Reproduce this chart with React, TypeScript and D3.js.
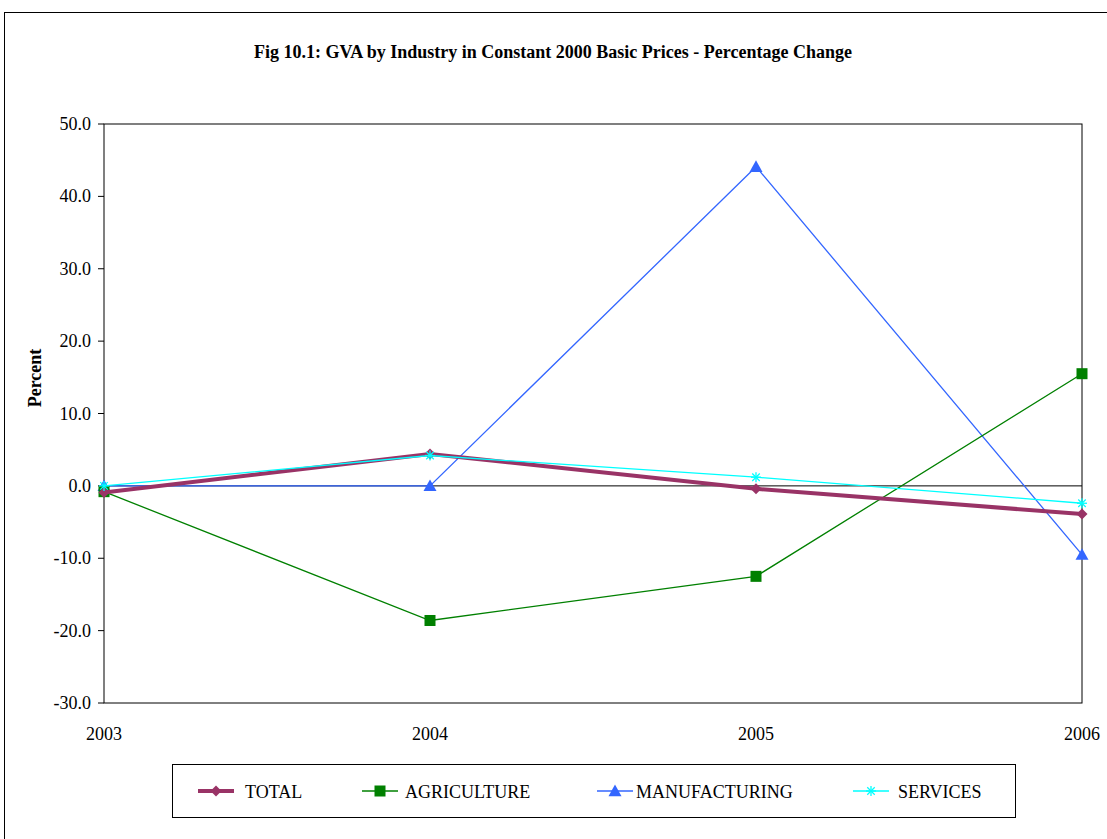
import React from "react";
import * as d3 from "d3";

const years = ["2003", "2004", "2005", "2006"];
const totalValues = [-0.9, 4.4, -0.4, -3.9];
const agricultureValues = [-0.8, -18.6, -12.5, 15.5];
const manufacturingValues = [0.0, 0.0, 44.1, -9.5];
const servicesValues = [0.0, 4.2, 1.2, -2.4];
const yTicks = [50, 40, 30, 20, 10, 0, -10, -20, -30];

const seriesNames = ["TOTAL", "AGRICULTURE", "MANUFACTURING", "SERVICES"];
const seriesColors = ["#993366", "#008000", "#3366FF", "#00FFFF"];
const seriesWidths = [4, 1.3, 1.3, 1.3];
const seriesMarkers = ["diamond", "square", "triangle", "asterisk"];
const seriesData = [totalValues, agricultureValues, manufacturingValues, servicesValues];

const W = 1107, H = 839;
const plot = { left: 104, right: 1082, top: 124, bottom: 703 };
const font = "'Liberation Serif', 'Times New Roman', serif";

function Marker({ kind, x, y, color }: { kind: string; x: number; y: number; color: string }) {
  if (kind === "diamond") {
    const s = 5.5;
    return <path d={`M${x},${y - s}L${x + s},${y}L${x},${y + s}L${x - s},${y}Z`} fill={color} />;
  }
  if (kind === "square") {
    const s = 5.5;
    return <rect x={x - s} y={y - s} width={2 * s} height={2 * s} fill={color} />;
  }
  if (kind === "triangle") {
    const s = 6.5;
    return <path d={`M${x},${y - s}L${x + s},${y + s * 0.8}L${x - s},${y + s * 0.8}Z`} fill={color} />;
  }
  const s = 5;
  return (
    <g stroke={color} strokeWidth={1.3}>
      <line x1={x - s} y1={y} x2={x + s} y2={y} />
      <line x1={x} y1={y - s} x2={x} y2={y + s} />
      <line x1={x - s * 0.75} y1={y - s * 0.75} x2={x + s * 0.75} y2={y + s * 0.75} />
      <line x1={x - s * 0.75} y1={y + s * 0.75} x2={x + s * 0.75} y2={y - s * 0.75} />
    </g>
  );
}

export default function App() {
  const x = d3.scalePoint<string>().domain(years).range([plot.left, plot.right]);
  const y = d3.scaleLinear().domain([-30, 50]).range([plot.bottom, plot.top]);
  const line = d3
    .line<number>()
    .x((_, i) => x(years[i]) as number)
    .y((d) => y(d));

  const legendItems = [
    { lineX: 198, textX: 245 },
    { lineX: 362, textX: 405 },
    { lineX: 597, textX: 636 },
    { lineX: 853, textX: 898 },
  ];
  const legendY = 791;

  return (
    <svg
      width={W}
      height={H}
      style={{ position: "absolute", left: 0, top: 0, display: "block" }}
      fontFamily={font}
    >
      <rect x={0} y={0} width={W} height={H} fill="#fff" />
      <rect x={4.5} y={12.5} width={W + 10} height={H + 10} fill="none" stroke="#000" strokeWidth={1} />
      <text x={553} y={58} textAnchor="middle" fontSize={18} fontWeight="bold">
        Fig 10.1: GVA by Industry in Constant 2000 Basic Prices - Percentage Change
      </text>

      {/* plot area */}
      <rect
        x={plot.left}
        y={plot.top}
        width={plot.right - plot.left}
        height={plot.bottom - plot.top}
        fill="none"
        stroke="#000"
        strokeWidth={1}
      />
      <line x1={plot.left} x2={plot.right} y1={y(0)} y2={y(0)} stroke="#000" strokeWidth={1} />

      {yTicks.map((t) => (
        <g key={t}>
          <line x1={plot.left - 6} x2={plot.left} y1={y(t)} y2={y(t)} stroke="#000" />
          <text x={91} y={y(t) + 6} textAnchor="end" fontSize={18}>
            {t.toFixed(1)}
          </text>
        </g>
      ))}
      {years.map((yr) => (
        <text key={yr} x={x(yr)} y={740} textAnchor="middle" fontSize={18}>
          {yr}
        </text>
      ))}
      <text
        transform={`translate(41,${378}) rotate(-90)`}
        textAnchor="middle"
        fontSize={18}
        fontWeight="bold"
      >
        Percent
      </text>

      {/* series, drawn back to front */}
      {[2, 1, 0, 3].map((si) => (
        <g key={seriesNames[si]}>
          <path
            d={line(seriesData[si]) || ""}
            fill="none"
            stroke={seriesColors[si]}
            strokeWidth={seriesWidths[si]}
          />
          {seriesData[si].map((v, i) => (
            <Marker key={i} kind={seriesMarkers[si]} x={x(years[i]) as number} y={y(v)} color={seriesColors[si]} />
          ))}
        </g>
      ))}

      {/* legend */}
      <rect x={172.5} y={764.5} width={843} height={53} fill="#fff" stroke="#000" strokeWidth={1} />
      {seriesNames.map((name, si) => {
        const it = legendItems[si];
        return (
          <g key={name}>
            <line
              x1={it.lineX}
              x2={it.lineX + 36}
              y1={legendY}
              y2={legendY}
              stroke={seriesColors[si]}
              strokeWidth={seriesWidths[si]}
            />
            <Marker kind={seriesMarkers[si]} x={it.lineX + 18} y={legendY} color={seriesColors[si]} />
            <text x={it.textX} y={legendY + 7} fontSize={18}>
              {name}
            </text>
          </g>
        );
      })}
    </svg>
  );
}
